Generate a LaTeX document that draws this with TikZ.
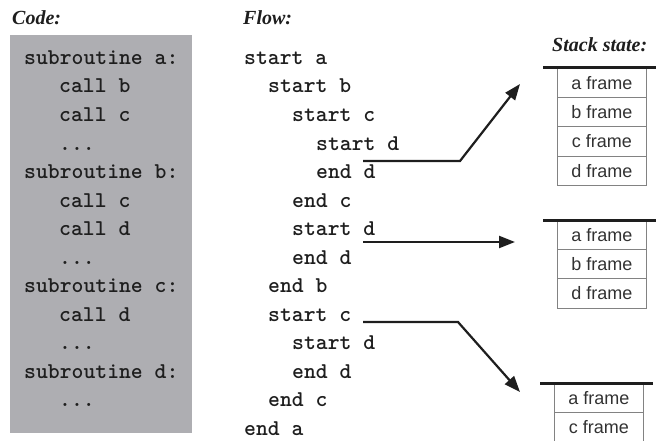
\documentclass[tikz,border=0pt]{standalone}
\usepackage{fontspec}
\setmainfont{Liberation Serif}
\setsansfont{Liberation Sans}
\usetikzlibrary{arrows.meta}

\definecolor{codegray}{RGB}{174,174,178}
\definecolor{ink}{RGB}{30,30,30}
\definecolor{cellline}{RGB}{130,130,130}
\definecolor{celltext}{RGB}{50,50,50}

\tikzset{
  header/.style={anchor=base west, inner sep=0pt, text=ink,
    font=\fontsize{20}{24}\selectfont\bfseries\itshape},
  codeline/.style={anchor=base west, inner sep=0pt, text=ink,
    font=\fontsize{22.6}{26}\selectfont\ttfamily\bfseries},
  stackcell/.style={draw=cellline, line width=0.8pt, minimum width=89pt,
    minimum height=29.2pt, inner sep=0pt, anchor=north west, text=celltext,
    font=\fontsize{18}{20}\selectfont\sffamily},
  stacktop/.style={line width=3pt, draw=ink},
  flowarrow/.style={line width=2.2pt, draw=ink,
    -{Triangle[length=16pt,width=12pt]}},
}

\begin{document}
\begin{tikzpicture}[x=1pt,y=-1pt]
\useasboundingbox (0,0) rectangle (656,441);

% headers
\node[header] (hcode) at (12,25) {Code:};
\node[header] (hflow) at (243,25) {Flow:};
\node[header] (hstack) at (552,52) {Stack state:};

% code box
\node[fill=codegray, minimum width=182pt, minimum height=398pt,
      anchor=north west, inner sep=0pt] (codebox) at (10,35) {};

% code lines
\node[codeline] (c0)  at (24,64.5)  {subroutine a:};
\node[codeline] (c1)  at (59,93)    {call b};
\node[codeline] (c2)  at (59,121.5) {call c};
\node[codeline] (c3)  at (59,150)   {...};
\node[codeline] (c4)  at (24,178.5) {subroutine b:};
\node[codeline] (c5)  at (59,207)   {call c};
\node[codeline] (c6)  at (59,235.5) {call d};
\node[codeline] (c7)  at (59,264)   {...};
\node[codeline] (c8)  at (24,292.5) {subroutine c:};
\node[codeline] (c9)  at (59,321)   {call d};
\node[codeline] (c10) at (59,349.5) {...};
\node[codeline] (c11) at (24,378)   {subroutine d:};
\node[codeline] (c12) at (59,406.5) {...};

% flow lines
\node[codeline] (f0)  at (244,64.5)  {start a};
\node[codeline] (f1)  at (268,93)    {start b};
\node[codeline] (f2)  at (292,121.5) {start c};
\node[codeline] (f3)  at (316,150)   {start d};
\node[codeline] (f4)  at (316,178.5) {end d};
\node[codeline] (f5)  at (292,207)   {end c};
\node[codeline] (f6)  at (292,235.5) {start d};
\node[codeline] (f7)  at (292,264)   {end d};
\node[codeline] (f8)  at (268,292.5) {end b};
\node[codeline] (f9)  at (268,321)   {start c};
\node[codeline] (f10) at (292,349.5) {start d};
\node[codeline] (f11) at (292,378)   {end d};
\node[codeline] (f12) at (268,406.5) {end c};
\node[codeline] (f13) at (244,435)   {end a};

% stack 1
\node[stackcell] (s1a) at (557,68)    {a frame};
\node[stackcell] (s1b) at (557,97.2)  {b frame};
\node[stackcell] (s1c) at (557,126.4) {c frame};
\node[stackcell] (s1d) at (557,155.6) {d frame};
\coordinate (t1l) at (543,68);
\coordinate (t1r) at (656,68);
\draw[stacktop] (t1l) -- (t1r);

% stack 2
\node[stackcell] (s2a) at (557,220)   {a frame};
\node[stackcell] (s2b) at (557,249.2) {b frame};
\node[stackcell] (s2d) at (557,278.4) {d frame};
\coordinate (t2l) at (543,220);
\coordinate (t2r) at (656,220);
\draw[stacktop] (t2l) -- (t2r);

% stack 3
\node[stackcell] (s3a) at (554,383)   {a frame};
\node[stackcell, minimum height=34pt, text depth=4.8pt] (s3c) at (554,412.2) {c frame};
\coordinate (t3l) at (540,383);
\coordinate (t3r) at (653,383);
\draw[stacktop] (t3l) -- (t3r);

% arrows
\coordinate (a1s) at (363,161);
\coordinate (a1k) at (460,161);
\coordinate (a1e) at (520,84);
\draw[flowarrow] (a1s) -- (a1k) -- (a1e);

\coordinate (a2s) at (363,242);
\coordinate (a2e) at (515,242);
\draw[flowarrow] (a2s) -- (a2e);

\coordinate (a3s) at (363,322);
\coordinate (a3k) at (458,322);
\coordinate (a3e) at (520,392);
\draw[flowarrow] (a3s) -- (a3k) -- (a3e);
\end{tikzpicture}
\end{document}
